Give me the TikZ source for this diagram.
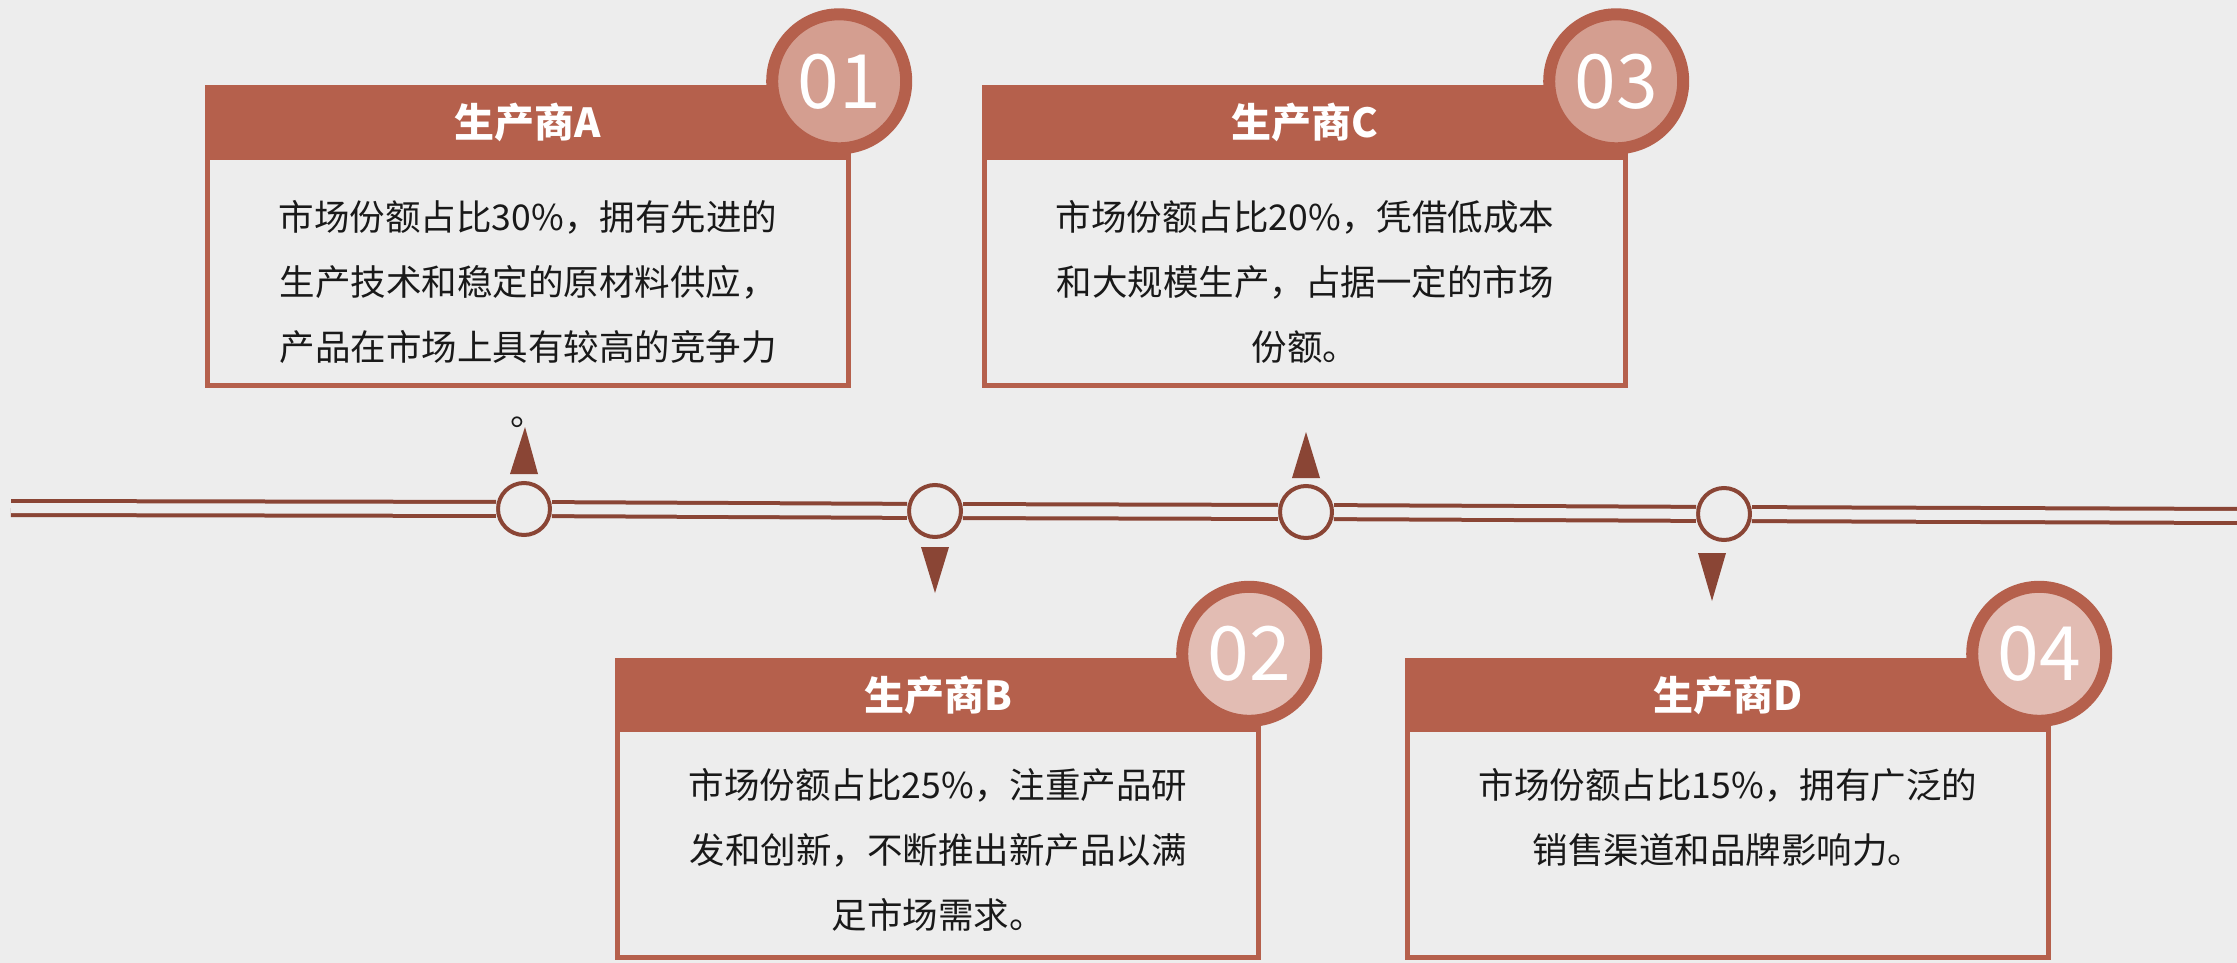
\documentclass[tikz,border=0pt]{standalone}
\usepackage{fontspec}
\newfontfamily\cjk{Noto Sans CJK SC}
\usetikzlibrary{positioning}
\definecolor{brique}{HTML}{B5604C}
\definecolor{roseA}{HTML}{D49E90}
\definecolor{roseB}{HTML}{E2BCB3}
\definecolor{brun}{HTML}{8A4535}
\definecolor{fond}{HTML}{EDEDED}
\tikzset{
    headbox/.style = {
        rectangle,
        fill=brique,
        minimum width=646pt,
        minimum height=74pt,
        inner sep=0pt,
        text=white,
        font=\cjk\bfseries\fontsize{40pt}{48pt}\selectfont
    },
    bodybox/.style = {
        rectangle,
        draw=brique,
        line width=5pt,
        fill=fond,
        minimum width=641pt,
        minimum height=228pt
    },
    bodytext/.style = {
        inner sep=0pt,
        align=center,
        text=black!90,
        font=\cjk\fontsize{35.5pt}{65pt}\selectfont
    },
    numcirc/.style = {
        circle,
        draw=brique,
        line width=12pt,
        minimum size=134pt,
        inner sep=0pt,
        text=white,
        font=\cjk\fontsize{75pt}{75pt}\selectfont
    },
    darkcirc/.style  = {numcirc, fill=roseA},
    lightcirc/.style = {numcirc, fill=roseB},
    station/.style = {circle, draw=brun, line width=4pt, fill=fond, minimum size=52pt, inner sep=0pt},
    rail/.style = {draw=brun, line width=4pt, double=fond, double distance=10pt}
}
\begin{document}
\begin{tikzpicture}[x=1pt, y=-1pt]

\useasboundingbox (0,0) rectangle (2237,963);
\fill[fond] (0,0) rectangle (2237,963);

% Ligne du temps
\coordinate (railL) at (11,508);
\coordinate (railR) at (2240,516);
\node[station] (stA) at (524,509) {};
\node[station] (stB) at (935,511) {};
\node[station] (stC) at (1306,512) {};
\node[station] (stD) at (1724,514) {};

\draw[rail] (railL) -- (stA);
\draw[rail] (stA) -- (stB);
\draw[rail] (stB) -- (stC);
\draw[rail] (stC) -- (stD);
\draw[rail] (stD) -- (railR);

\fill[brun] ([xshift=-14pt,yshift=7pt]stA.north) -- ([xshift=14pt,yshift=7pt]stA.north) -- ([xshift=1pt,yshift=54pt]stA.north) -- cycle;
\fill[brun] ([xshift=-14pt,yshift=-8pt]stB.south) -- ([xshift=14pt,yshift=-8pt]stB.south) -- ([yshift=-54pt]stB.south) -- cycle;
\fill[brun] ([xshift=-14pt,yshift=6pt]stC.north) -- ([xshift=14pt,yshift=6pt]stC.north) -- ([yshift=52pt]stC.north) -- cycle;
\fill[brun] ([xshift=-26pt,yshift=-11pt]stD.south) -- ([xshift=2pt,yshift=-11pt]stD.south) -- ([xshift=-12pt,yshift=-59pt]stD.south) -- cycle;

% Producteurs en haut
\node[headbox] (headA) at (528,122.5) {生产商A};
\node[bodybox, below=-5pt of headA] (bodyA) {};
\node[bodytext, below=40pt of headA] (txtA) {市场份额占比30\%，拥有先进的\\生产技术和稳定的原材料供应，\\产品在市场上具有较高的竞争力\\。};
\node[darkcirc, xshift=-12pt, yshift=4pt] (numA) at (headA.north east) {01};

\node[headbox] (headC) at (1305,122.5) {生产商C};
\node[bodybox, below=-5pt of headC] (bodyC) {};
\node[bodytext, below=40pt of headC] (txtC) {市场份额占比20\%，凭借低成本\\和大规模生产，占据一定的市场\\份额。};
\node[darkcirc, xshift=-12pt, yshift=4pt] (numC) at (headC.north east) {03};

% Producteurs en bas
\node[headbox] (headB) at (938,695) {生产商B};
\node[bodybox, below=-5pt of headB] (bodyB) {};
\node[bodytext, below=36pt of headB] (txtB) {市场份额占比25\%，注重产品研\\发和创新，不断推出新产品以满\\足市场需求。};
\node[lightcirc, xshift=-12pt, yshift=4pt] (numB) at (headB.north east) {02};

\node[headbox] (headD) at (1728,695) {生产商D};
\node[bodybox, below=-5pt of headD] (bodyD) {};
\node[bodytext, below=36pt of headD] (txtD) {市场份额占比15\%，拥有广泛的\\销售渠道和品牌影响力。};
\node[lightcirc, xshift=-12pt, yshift=4pt] (numD) at (headD.north east) {04};

\end{tikzpicture}
\end{document}
